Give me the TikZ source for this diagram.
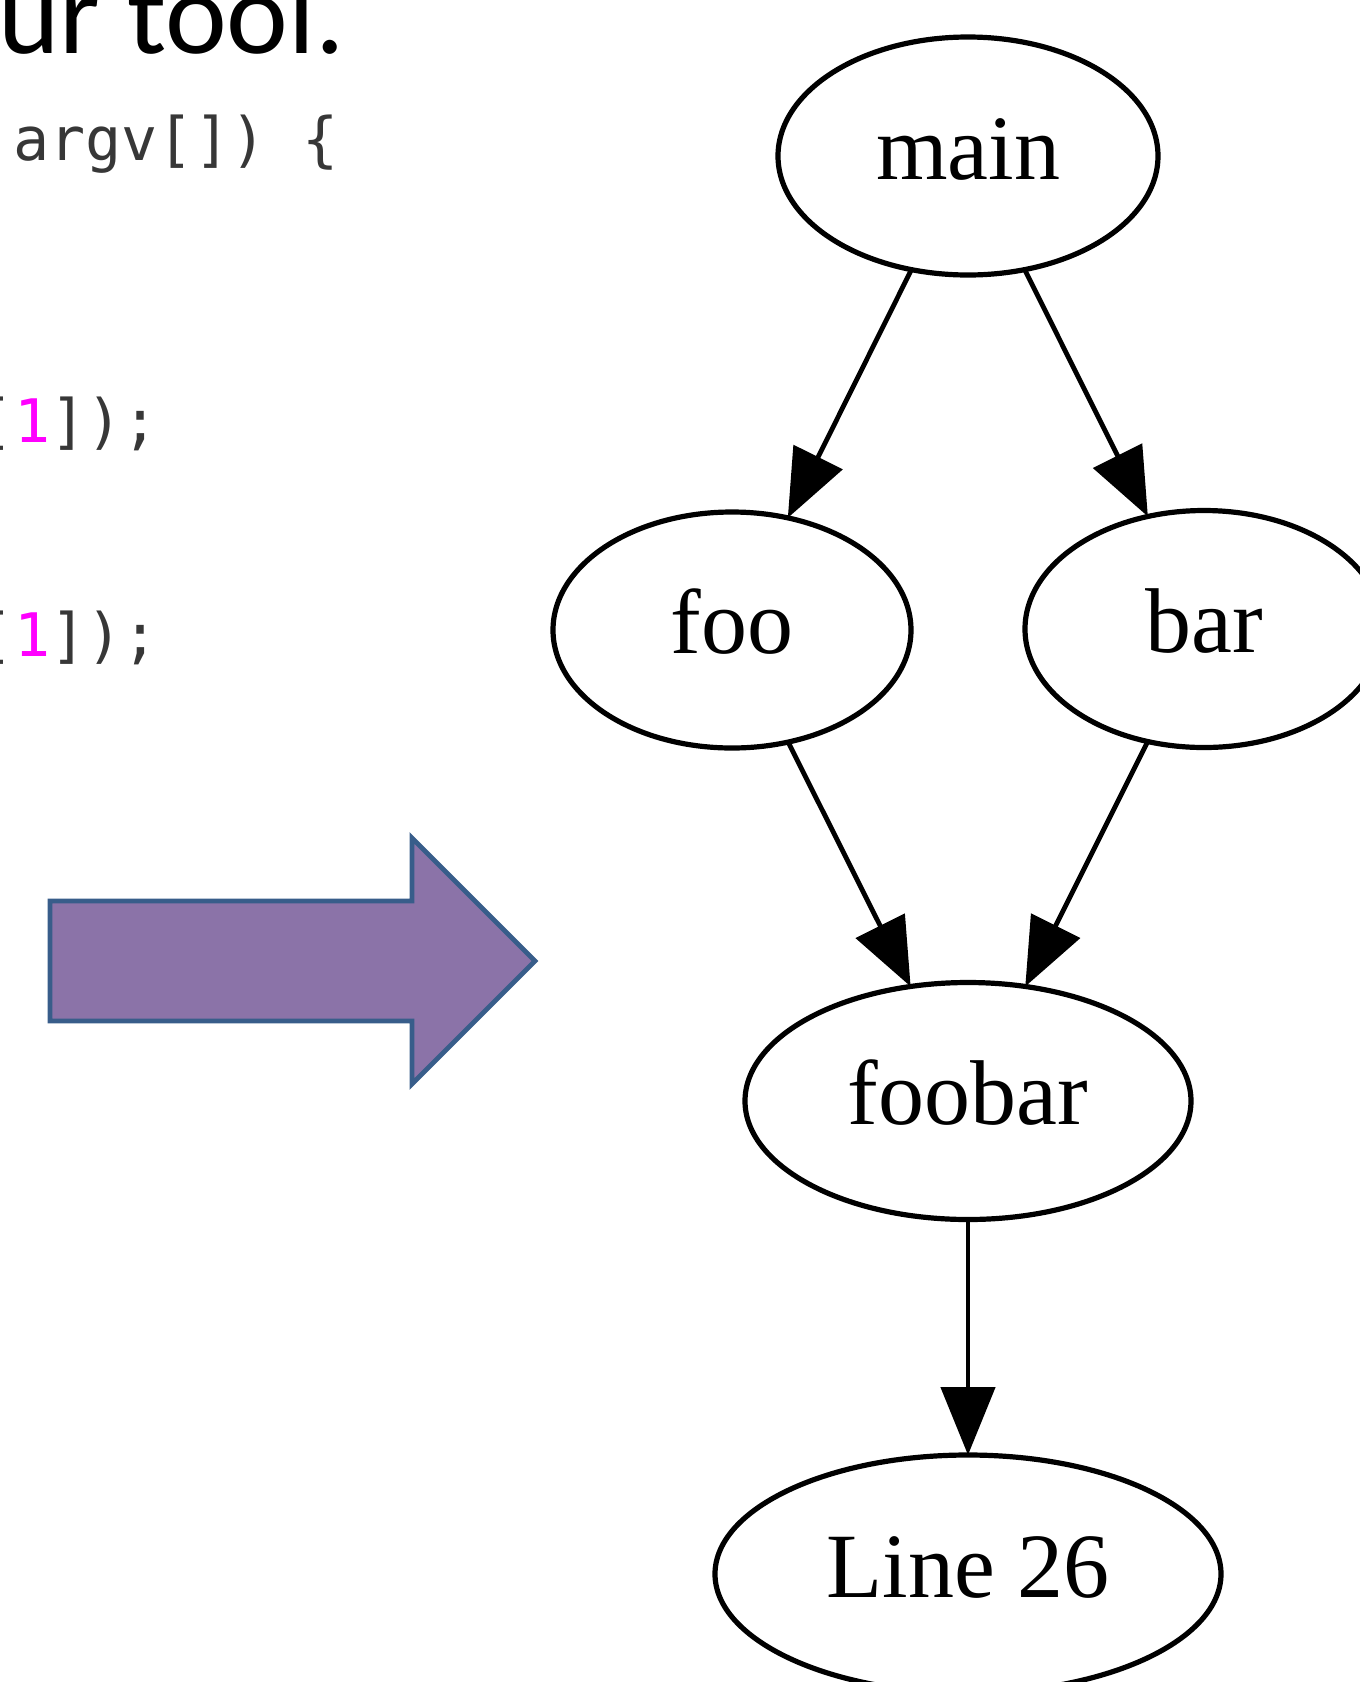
\documentclass[tikz,border=0pt]{standalone}
\usepackage{fontspec}
\usetikzlibrary{shapes.geometric,arrows.meta}
\newfontfamily\graphfont{Liberation Serif}
\newfontfamily\codefont{DejaVu Sans Mono}
\newfontfamily\slidefont{Carlito}
\definecolor{arrowfill}{RGB}{139,115,168}
\definecolor{arrowline}{RGB}{56,93,138}
\definecolor{codegray}{RGB}{55,55,55}
\definecolor{codemag}{RGB}{255,0,255}
\tikzset{
  gnode/.style={ellipse, draw, line width=2.6pt, inner sep=0pt, outer sep=0pt,
    font=\graphfont\fontsize{46}{50}\selectfont, text height=32.2pt, text depth=9.2pt},
  conn/.style={line width=2.4pt, -{Triangle[length=34pt,width=27pt]}},
  codetxt/.style={anchor=base west, inner sep=0pt, outer sep=0pt,
    font=\codefont\fontsize{30}{34}\selectfont, text=codegray},
  bigarrow/.style={fill=arrowfill, draw=arrowline, line width=2.4pt, line join=miter}
}
\begin{document}
\begin{tikzpicture}[x=0.5pt, y=-0.5pt]
\useasboundingbox (0,0) rectangle (1360,1682);
\clip (0,0) rectangle (1360,1682);
% slide text
\node[anchor=base west, inner sep=0pt, font=\slidefont\fontsize{58.5}{64}\selectfont] (title) at (-2,53) {ur tool.};
\node[codetxt] (code1) at (13.5,160) {argv[]) \{};
\node[codetxt] (code2) at (-22,442) {[\textcolor{codemag}{1}]);};
\node[codetxt] (code3) at (-22,656) {[\textcolor{codemag}{1}]);};
% big arrow
\draw[bigarrow] (50,901) -- (412,901) -- (412,838) -- (535,961) -- (412,1084) -- (412,1021) -- (50,1021) -- cycle;
% graph
\node[gnode, minimum width=190pt, minimum height=119pt] (main) at (968,156) {main};
\node[gnode, minimum width=179pt, minimum height=118pt] (foo) at (732,630) {foo};
\node[gnode, minimum width=179pt, minimum height=118.5pt] (bar) at (1204,629) {bar};
\node[gnode, minimum width=223pt, minimum height=118.5pt] (foobar) at (968,1101) {foobar};
\node[gnode, minimum width=253pt, minimum height=119pt] (line26) at (968,1574) {Line 26};
\draw[conn] (main) -- (foo);
\draw[conn] (main) -- (bar);
\draw[conn] (foo) -- (foobar);
\draw[conn] (bar) -- (foobar);
\draw[conn] (foobar) -- (line26);
\end{tikzpicture}
\end{document}
